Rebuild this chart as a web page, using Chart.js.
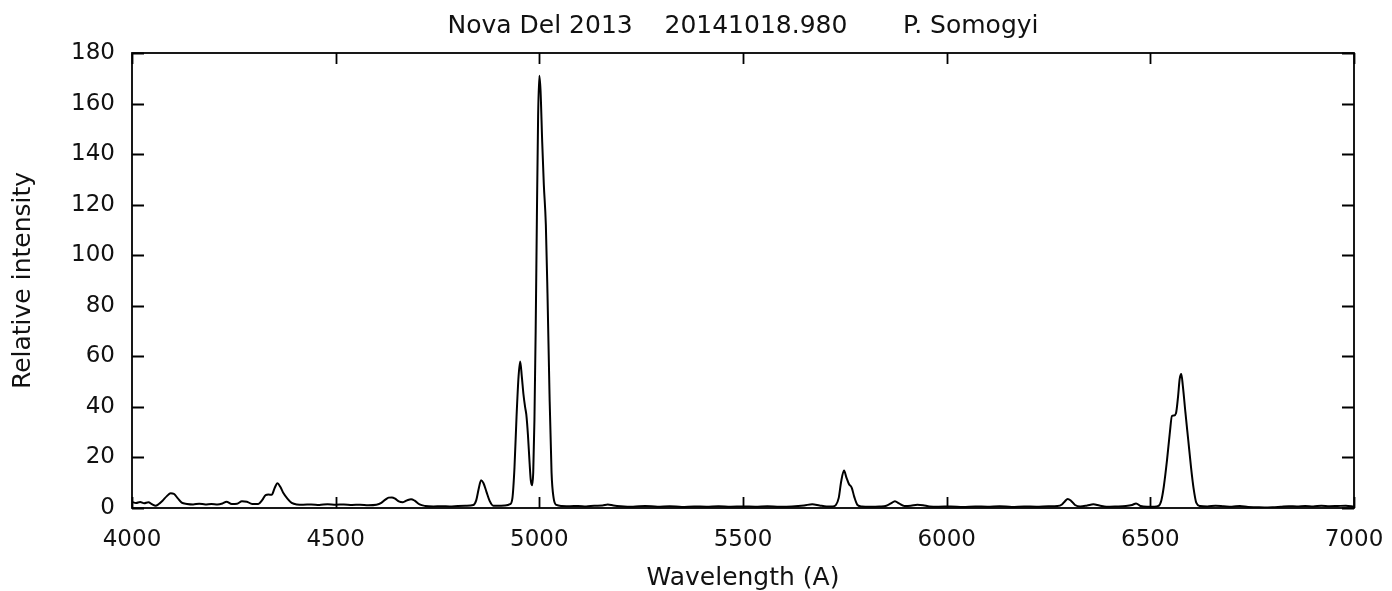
<!DOCTYPE html>
<html>
<head>
<meta charset="utf-8">
<title>Nova Del 2013</title>
<script src="https://cdn.jsdelivr.net/npm/chart.js@4.4.1/dist/chart.umd.min.js"></script>
<style>
  html, body { margin: 0; padding: 0; background: #fff; }
  #wrap { width: 1392px; height: 591px; }
</style>
</head>
<body>
<div id="wrap"><canvas id="spectrum" width="1392" height="591"></canvas></div>
<script>
// Spectrum samples: wavelength (A) and relative intensity
const wavelengths = [
  4000, 4010, 4020, 4030, 4040, 4050, 4058, 4065, 4075, 4085, 4095, 4103, 4112, 4122, 4135,
  4150, 4165, 4180, 4195, 4210, 4222, 4232, 4245, 4258, 4270, 4282, 4295, 4310, 4320, 4328,
  4335, 4343, 4350, 4357, 4364, 4372, 4382, 4392, 4405, 4420, 4440, 4460, 4480, 4500, 4520,
  4540, 4560, 4580, 4600, 4612, 4622, 4630, 4638, 4646, 4655, 4665, 4675, 4685, 4694, 4706,
  4720, 4740, 4760, 4780, 4800, 4820, 4838, 4845, 4851, 4857, 4863, 4870, 4878, 4887, 4900,
  4915, 4928, 4934, 4939, 4944, 4949, 4953, 4957, 4961, 4965, 4968, 4972, 4976, 4979, 4982,
  4985, 4988, 4991, 4994, 4997, 5000, 5003, 5007, 5011, 5016, 5020, 5025, 5030, 5035, 5042,
  5055, 5075, 5095, 5115, 5135, 5155, 5168, 5182, 5200, 5230, 5260, 5290, 5320, 5350, 5380,
  5410, 5440, 5470, 5500, 5530, 5560, 5590, 5620, 5650, 5670, 5688, 5705, 5720, 5728, 5735,
  5741, 5748, 5754, 5760, 5767, 5773, 5781, 5792, 5812, 5835, 5852, 5863, 5873, 5883, 5896,
  5912, 5928, 5942, 5958, 5980, 6010, 6040, 6070, 6100, 6130, 6160, 6190, 6220, 6250, 6272,
  6283, 6290, 6297, 6305, 6315, 6328, 6345, 6360, 6375, 6392, 6415, 6440, 6455, 6465, 6476,
  6492, 6510, 6520, 6527, 6533, 6541, 6548, 6553, 6558, 6563, 6568, 6572, 6576, 6580, 6586,
  6593, 6600, 6606, 6613, 6622, 6640, 6660, 6680, 6700, 6720, 6740, 6760, 6780, 6800, 6820,
  6840, 6860, 6880, 6900, 6920, 6940, 6960, 6980, 7000
];
const intensity = [
  2.4, 2.0, 2.4, 1.9, 2.3, 1.4, 0.9, 1.5, 2.9, 4.6, 5.8, 5.6, 3.9, 2.1, 1.6,
  1.4, 1.7, 1.4, 1.6, 1.4, 1.8, 2.5, 1.6, 1.7, 2.7, 2.5, 1.6, 1.6, 3.2, 5.1,
  5.3, 5.2, 7.8, 9.8, 8.4, 5.8, 3.6, 2.0, 1.4, 1.3, 1.4, 1.2, 1.5, 1.3, 1.4,
  1.2, 1.3, 1.1, 1.3, 2.0, 3.3, 4.1, 4.2, 3.7, 2.6, 2.3, 3.0, 3.5, 2.9, 1.4,
  0.8, 0.6, 0.7, 0.6, 0.8, 0.9, 1.2, 3.0, 7.5, 11.0, 9.8, 6.5, 2.8, 0.9, 0.9,
  1.0, 1.5, 4.0, 16.0, 36.0, 52.0, 58.0, 52.0, 45.0, 40.0, 37.0, 29.0, 18.0, 11.0, 9.0,
  14.0, 35.0, 70.0, 115.0, 155.0, 171.0, 165.0, 145.0, 128.0, 112.0, 85.0, 45.0, 14.0, 4.0, 1.2,
  0.8, 0.7, 0.8, 0.6, 0.9, 1.0, 1.4, 1.0, 0.7, 0.5, 0.8, 0.5, 0.7, 0.4, 0.6,
  0.5, 0.7, 0.5, 0.6, 0.5, 0.7, 0.5, 0.6, 1.0, 1.5, 1.0, 0.6, 0.6, 1.2, 4.0,
  10.5, 14.8, 12.0, 9.5, 8.0, 4.5, 1.2, 0.6, 0.5, 0.6, 0.9, 1.8, 2.7, 1.8, 0.8,
  0.9, 1.3, 1.1, 0.6, 0.5, 0.6, 0.4, 0.6, 0.5, 0.7, 0.4, 0.6, 0.5, 0.7, 0.8,
  1.4, 2.6, 3.6, 2.9, 1.2, 0.6, 1.0, 1.5, 1.0, 0.5, 0.6, 0.8, 1.2, 1.8, 0.8,
  0.5, 0.5, 0.8, 3.0, 8.4, 19.0, 30.0, 36.4, 36.6, 37.5, 44.0, 51.0, 53.0, 48.0, 38.0,
  27.0, 16.0, 8.0, 2.0, 0.8, 0.6, 0.9, 0.7, 0.5, 0.8, 0.4, 0.3, 0.2, 0.3, 0.5,
  0.7, 0.6, 0.8, 0.6, 0.9, 0.7, 0.8, 0.9, 0.5
];
const xTicks = [4000, 4500, 5000, 5500, 6000, 6500, 7000];
const yTicks = [0, 20, 40, 60, 80, 100, 120, 140, 160, 180];
const titleText = 'Nova Del 2013    20141018.980       P. Somogyi';

const FONT = '"DejaVu Sans", Verdana, sans-serif';
const TEXT = '#111';

// Box around the plot with inward tick marks on all four sides, plus the title
const framePlugin = {
  id: 'frame',
  afterDatasetsDraw(chart) {
    const { ctx, chartArea: a, scales: { x, y } } = chart;
    ctx.save();
    ctx.strokeStyle = '#000';
    ctx.lineWidth = 1.8;
    ctx.strokeRect(a.left, a.top, a.right - a.left, a.bottom - a.top);
    ctx.beginPath();
    xTicks.forEach(v => {
      const px = Math.round(x.getPixelForValue(v)) + 0.5;
      ctx.moveTo(px, a.bottom); ctx.lineTo(px, a.bottom - 11);
      ctx.moveTo(px, a.top); ctx.lineTo(px, a.top + 11);
    });
    yTicks.forEach(v => {
      const py = Math.round(y.getPixelForValue(v)) + 0.5;
      ctx.moveTo(a.left, py); ctx.lineTo(a.left + 12, py);
      ctx.moveTo(a.right, py); ctx.lineTo(a.right - 12, py);
    });
    ctx.stroke();
    ctx.fillStyle = TEXT;
    ctx.font = '25px ' + FONT;
    ctx.textAlign = 'center';
    ctx.textBaseline = 'middle';
    ctx.fillText(titleText, (a.left + a.right) / 2, 26);
    ctx.restore();
  }
};

new Chart(document.getElementById('spectrum'), {
  type: 'line',
  data: {
    datasets: [{
      data: wavelengths.map((w, i) => ({ x: w, y: intensity[i] })),
      borderColor: '#000',
      borderWidth: 2,
      pointRadius: 0,
      cubicInterpolationMode: 'monotone',
      fill: false
    }]
  },
  options: {
    responsive: false,
    animation: false,
    devicePixelRatio: 1,
    layout: { padding: { top: 53, right: 38, left: 0, bottom: 0 } },
    plugins: {
      legend: { display: false },
      tooltip: { enabled: false }
    },
    scales: {
      x: {
        type: 'linear',
        min: 4000,
        max: 7000,
        afterBuildTicks: s => { s.ticks = xTicks.map(v => ({ value: v })); },
        afterFit: s => { s.height = 83; s.paddingLeft = 0; s.paddingRight = 0; },
        grid: { display: false, drawTicks: false },
        border: { display: false },
        ticks: {
          padding: 18,
          color: TEXT,
          font: { family: FONT, size: 23 },
          callback: v => String(v)
        },
        title: {
          display: true,
          text: 'Wavelength (A)',
          color: TEXT,
          font: { family: FONT, size: 25 },
          padding: { top: 0, bottom: -2 }
        }
      },
      y: {
        min: 0,
        max: 180,
        afterBuildTicks: s => { s.ticks = yTicks.map(v => ({ value: v })); },
        afterFit: s => { s.width = 132; s.paddingTop = 0; s.paddingBottom = 0; },
        grid: { display: false, drawTicks: false },
        border: { display: false },
        ticks: { padding: 17, color: TEXT, font: { family: FONT, size: 23 } },
        title: {
          display: true,
          text: 'Relative intensity',
          color: TEXT,
          font: { family: FONT, size: 25 },
          padding: { top: 8, bottom: 0 }
        }
      }
    }
  },
  plugins: [framePlugin]
});
</script>
</body>
</html>
